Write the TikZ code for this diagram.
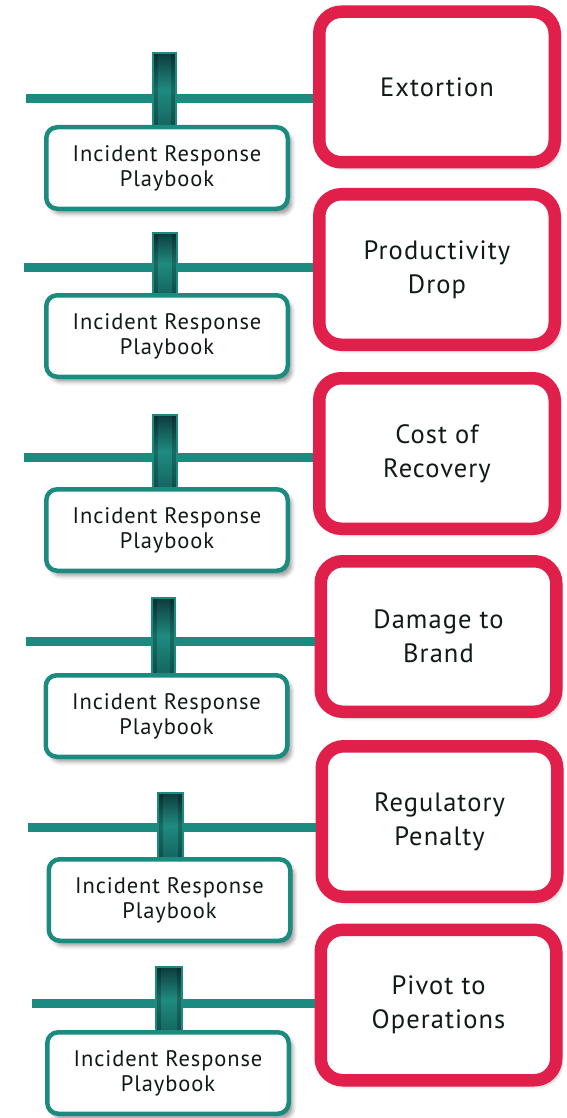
\documentclass[tikz,border=0pt]{standalone}
\usepackage{fontspec}
\setmainfont{PT Sans}[LetterSpace=4]
\usetikzlibrary{shadows.blur}

\definecolor{teal}{HTML}{1B8B80}
\definecolor{crimson}{HTML}{E01F4B}
\definecolor{inkdark}{HTML}{111A19}
\definecolor{postdark}{HTML}{0D3B3D}
\definecolor{postmid}{HTML}{1F8B80}
\definecolor{postlow}{HTML}{146560}

\tikzset{
  softshadow/.style={blur shadow={shadow xshift=4pt, shadow yshift=-5pt,
      shadow blur radius=4pt, shadow opacity=40}},
  impact/.style={draw=crimson, line width=12.5pt, fill=white, rounded corners=22pt,
      minimum width=235.5pt, minimum height=150.5pt, align=center, text=inkdark,
      font=\fontsize{26.5}{34}\selectfont, softshadow},
  playbook/.style={draw=teal, line width=4.5pt, fill=white, rounded corners=11pt,
      minimum width=241.5pt, minimum height=81.5pt, align=center, text=inkdark,
      font=\fontsize{22.5}{25}\selectfont, softshadow},
  post/.style={draw=teal, line width=2pt, anchor=north, inner sep=0pt,
      top color=postdark, bottom color=postlow, middle color=postmid,
      path picture={
        \fill[black, opacity=0.22] (path picture bounding box.north west) rectangle
          ([xshift=5pt]path picture bounding box.south west);
        \fill[black, opacity=0.22] (path picture bounding box.north east) rectangle
          ([xshift=-5pt]path picture bounding box.south east);
      }},
  link/.style={draw=teal, line width=9pt},
}

\begin{document}
\begin{tikzpicture}[x=1pt, y=-1pt]
\useasboundingbox (0,0) rectangle (567,1118);

% ---- Extortion
\coordinate (s1) at (26,98.5);
\node[impact] (i1) at (437,87) {Extortion};
\draw[link] (s1) -- (s1 -| i1.west);
\node[post, minimum width=23pt, minimum height=73pt] (q1) at (164.5,52) {};
\node[playbook] (p1) at (167,168) {Incident Response\\Playbook};

% ---- Productivity Drop
\coordinate (s2) at (24,267);
\node[impact] (i2) at (437,269.5) {Productivity\\Drop};
\draw[link] (s2) -- (s2 -| i2.west);
\node[post, minimum width=24pt, minimum height=61pt] (q2) at (165,232) {};
\node[playbook] (p2) at (167,336) {Incident Response\\Playbook};

% ---- Cost of Recovery
\coordinate (s3) at (24,457);
\node[impact] (i3) at (437,453.5) {Cost of\\Recovery};
\draw[link] (s3) -- (s3 -| i3.west);
\node[post, minimum width=24pt, minimum height=73pt] (q3) at (165,414) {};
\node[playbook] (p3) at (167,530) {Incident Response\\Playbook};

% ---- Damage to Brand
\coordinate (s4) at (26,641);
\node[impact] (i4) at (438.5,636.5) {Damage to\\Brand};
\draw[link] (s4) -- (s4 -| i4.west);
\node[post, minimum width=23pt, minimum height=76pt] (q4) at (163.5,597) {};
\node[playbook] (p4) at (166.5,716) {Incident Response\\Playbook};

% ---- Regulatory Penalty
\coordinate (s5) at (28,827);
\node[impact] (i5) at (439.5,821.5) {Regulatory\\Penalty};
\draw[link] (s5) -- (s5 -| i5.west);
\node[post, minimum width=25pt, minimum height=65pt] (q5) at (170.5,792) {};
\node[playbook] (p5) at (169.5,900) {Incident Response\\Playbook};

% ---- Pivot to Operations
\coordinate (s6) at (32,1003);
\node[impact] (i6) at (438.5,1005) {Pivot to\\Operations};
\draw[link] (s6) -- (s6 -| i6.west);
\node[post, minimum width=26pt, minimum height=65pt] (q6) at (169,966) {};
\node[playbook] (p6) at (168,1073) {Incident Response\\Playbook};
\end{tikzpicture}
\end{document}
